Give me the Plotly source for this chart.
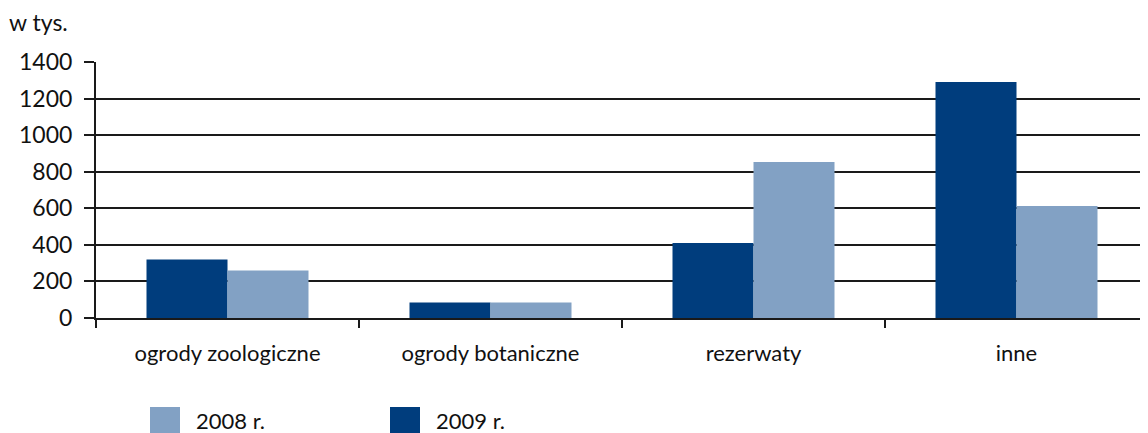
import plotly.graph_objects as go

categories = ["ogrody zoologiczne", "ogrody botaniczne", "rezerwaty", "inne"]
values_2009 = [320, 85, 410, 1290]
values_2008 = [260, 85, 853, 612]
y_ticks = [0, 200, 400, 600, 800, 1000, 1200, 1400]

DARK = "#003D7D"
LIGHT = "#82A1C4"
FONT = "Lato"

# the page places the figure 8px from the top-left corner
OFF = 8
W, H = 1148 - OFF, 433 - OFF
L, T = 96 - OFF, 62 - OFF
PB = 318 - OFF
PW, PH = W - L, PB - T

fig = go.Figure()
fig.add_trace(go.Bar(x=categories, y=values_2009, name="2009 r.", marker_color=DARK,
                     marker_line_width=0))
fig.add_trace(go.Bar(x=categories, y=values_2008, name="2008 r.", marker_color=LIGHT,
                     marker_line_width=0))

fig.update_layout(
    width=W, height=H,
    margin=dict(l=L, r=0, t=T, b=H - PB, pad=0),
    paper_bgcolor="white", plot_bgcolor="white",
    barmode="group", bargap=0.384, bargroupgap=0,
    showlegend=False,
    font=dict(family=FONT, size=20, color="#111"),
)
fig.update_yaxes(
    range=[0, 1400], tickvals=y_ticks, showgrid=True, gridcolor="#1a1a1a", gridwidth=2,
    ticks="outside", ticklen=10, tickwidth=2, tickcolor="#1a1a1a",
    showline=True, linecolor="#1a1a1a", linewidth=2,
    zeroline=False, ticklabelstandoff=7,
    tickfont=dict(family=FONT, size=23, color="#111"),
)
fig.update_xaxes(
    showgrid=False, showline=True, linecolor="#1a1a1a", linewidth=2,
    ticks="outside", tickson="boundaries", ticklen=8, tickwidth=2, tickcolor="#1a1a1a",
    ticklabelstandoff=15,
    tickfont=dict(family=FONT, size=22, color="#111"),
)


def px_x(x):
    return (x - OFF - L) / PW


def px_y(y):
    return (PB - (y - OFF)) / PH


fig.add_annotation(text="w tys.", xref="paper", yref="paper", x=px_x(7), y=px_y(22),
                   xanchor="left", yanchor="middle", showarrow=False,
                   font=dict(family=FONT, size=23, color="#111"))

# manual legend
legend_items = [("2008 r.", LIGHT, 150), ("2009 r.", DARK, 390)]
for label, color, px in legend_items:
    fig.add_shape(type="rect", xref="paper", yref="paper",
                  x0=px_x(px), x1=px_x(px + 30),
                  y0=px_y(433), y1=px_y(407),
                  fillcolor=color, line_width=0)
    fig.add_annotation(text=label, xref="paper", yref="paper",
                       x=px_x(px + 44), y=px_y(420),
                       xanchor="left", yanchor="middle", showarrow=False,
                       font=dict(family=FONT, size=22, color="#111"))

fig.write_html("out.html")
